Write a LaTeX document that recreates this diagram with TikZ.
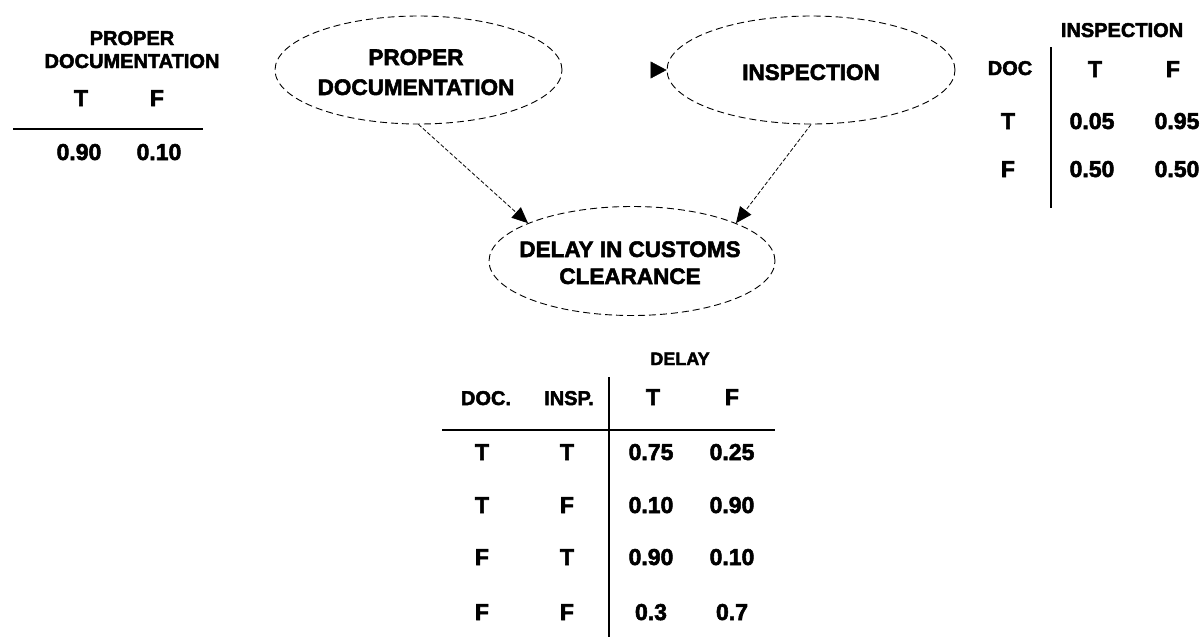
\documentclass[tikz,border=0pt]{standalone}
\usepackage{fontspec}
\setmainfont{Liberation Sans}[BoldFeatures={FakeBold=2.4}]
\usetikzlibrary{shapes.geometric,arrows.meta}

\begin{document}
\begin{tikzpicture}[x=1pt,y=-1pt,
  bayes/.style={ellipse,draw,dash pattern=on 7pt off 4pt,line width=0.9pt,inner sep=0pt},
  lbl/.style={font=\fontsize{22.5}{30}\selectfont\bfseries,align=center,inner sep=0pt,anchor=base},
  hdr/.style={font=\fontsize{20}{23}\selectfont\bfseries,align=center,inner sep=0pt,anchor=base},
  val/.style={font=\fontsize{23}{26}\selectfont\bfseries,inner sep=0pt,anchor=base},
  rule/.style={line width=1.8pt},
  link/.style={dash pattern=on 4pt off 2pt,line width=0.8pt,-{Triangle[length=16pt,width=14pt]}}
]
\useasboundingbox (0,0) rectangle (1201,638);

% network nodes
\node[bayes,minimum width=287pt,minimum height=108pt] (pd) at (418.5,70) {};
\node[bayes,minimum width=288pt,minimum height=108pt] (ins) at (811,70) {};
\node[bayes,minimum width=286pt,minimum height=109pt] (delay) at (632,261) {};

% node labels (base anchor sits on the last line)
\node[lbl] (pdtext) at (416,95) {PROPER\\DOCUMENTATION};
\node[lbl] (instext) at (811,80) {INSPECTION};
\node[lbl,font=\fontsize{22.5}{27}\selectfont\bfseries] (delaytext) at (630,284) {DELAY IN CUSTOMS\\CLEARANCE};

% connectors
\draw[link] (pd.south) -- (delay.160);
\draw[link] (ins.south) -- (delay.20);
\coordinate (stub) at (651,70);
\draw[-{Triangle[length=16pt,width=17pt]}] (stub) -- (ins.west);

% prior table: proper documentation
\node[hdr] (ptitle) at (132,68) {PROPER\\DOCUMENTATION};
\node[val] (pT) at (81,106) {T};
\node[val] (pF) at (157,106) {F};
\coordinate (pl1) at (13,129);
\coordinate (pl2) at (203,129);
\draw[rule] (pl1) -- (pl2);
\node[val] (pv1) at (79,160) {0.90};
\node[val] (pv2) at (159,160) {0.10};

% conditional table: inspection
\node[hdr] (ititle) at (1122,37) {INSPECTION};
\node[hdr] (idoc) at (1010,75) {DOC};
\node[val] (iT) at (1095,77) {T};
\node[val] (iF) at (1173,77) {F};
\coordinate (iv1) at (1051,47);
\coordinate (iv2) at (1051,208);
\draw[rule] (iv1) -- (iv2);
\node[val] (ir1) at (1008,129) {T};
\node[val] (ir1a) at (1092,129) {0.05};
\node[val] (ir1b) at (1177,129) {0.95};
\node[val] (ir2) at (1008,177) {F};
\node[val] (ir2a) at (1092,177) {0.50};
\node[val] (ir2b) at (1177,177) {0.50};

% conditional table: delay
\node[hdr,font=\fontsize{18}{20}\selectfont\bfseries] (dtitle) at (680,365) {DELAY};
\node[hdr] (ddoc) at (486,405) {DOC.};
\node[hdr] (dinsp) at (569,405) {INSP.};
\node[val] (dT) at (653,405) {T};
\node[val] (dF) at (732,405) {F};
\coordinate (dv1) at (609,377);
\coordinate (dv2) at (609,637);
\draw[rule] (dv1) -- (dv2);
\coordinate (dh1) at (442,430);
\coordinate (dh2) at (775,430);
\draw[rule] (dh1) -- (dh2);

\node[val] (r1a) at (482,460) {T};
\node[val] (r1b) at (567,460) {T};
\node[val] (r1c) at (651,460) {0.75};
\node[val] (r1d) at (732,460) {0.25};

\node[val] (r2a) at (482,513) {T};
\node[val] (r2b) at (567,513) {F};
\node[val] (r2c) at (651,513) {0.10};
\node[val] (r2d) at (732,513) {0.90};

\node[val] (r3a) at (482,565) {F};
\node[val] (r3b) at (567,565) {T};
\node[val] (r3c) at (651,565) {0.90};
\node[val] (r3d) at (732,565) {0.10};

\node[val] (r4a) at (482,620) {F};
\node[val] (r4b) at (567,620) {F};
\node[val] (r4c) at (651,620) {0.3};
\node[val] (r4d) at (732,620) {0.7};
\end{tikzpicture}
\end{document}
